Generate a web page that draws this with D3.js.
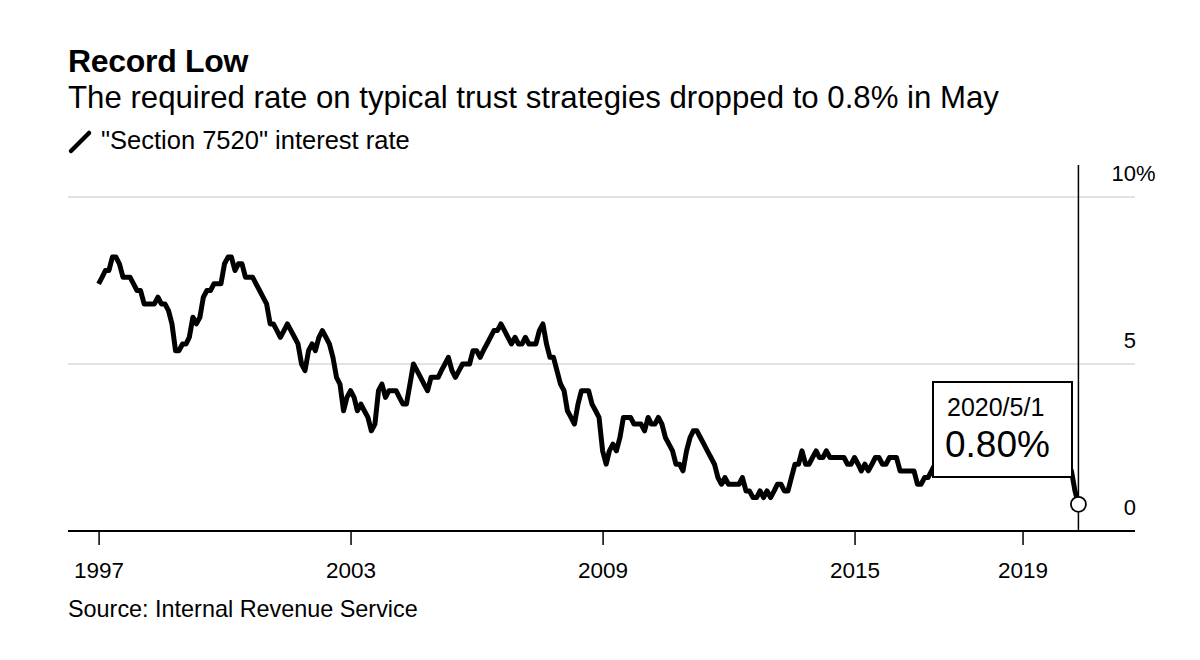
<!DOCTYPE html>
<html>
<head>
<meta charset="utf-8">
<script src="https://cdn.jsdelivr.net/npm/d3@7"></script>
<style>
  html, body { margin: 0; padding: 0; background: #fff; }
  svg text { font-family: "Liberation Sans", Arial, sans-serif; fill: #000; }
</style>
</head>
<body>
<script>
// ---- Data ----
const title = "Record Low";
const subtitle = "The required rate on typical trust strategies dropped to 0.8% in May";
const legendLabel = "\"Section 7520\" interest rate";
const source = "Source: Internal Revenue Service";

const firstMonth = [1997, 0]; // January 1997, monthly series
const rates = [
  // 1997
  7.4, 7.6, 7.8, 7.8, 8.2, 8.2, 8.0, 7.6, 7.6, 7.6, 7.4, 7.2,
  // 1998
  7.2, 6.8, 6.8, 6.8, 6.8, 7.0, 6.8, 6.8, 6.6, 6.2, 5.4, 5.4,
  // 1999
  5.6, 5.6, 5.8, 6.4, 6.2, 6.4, 7.0, 7.2, 7.2, 7.4, 7.4, 7.4,
  // 2000
  8.0, 8.2, 8.2, 7.8, 8.0, 8.0, 7.6, 7.6, 7.6, 7.4, 7.2, 7.0,
  // 2001
  6.8, 6.2, 6.2, 6.0, 5.8, 6.0, 6.2, 6.0, 5.8, 5.6, 5.0, 4.8,
  // 2002
  5.4, 5.6, 5.4, 5.8, 6.0, 5.8, 5.6, 5.2, 4.6, 4.4, 3.6, 4.0,
  // 2003
  4.2, 4.0, 3.6, 3.8, 3.6, 3.4, 3.0, 3.2, 4.2, 4.4, 4.0, 4.2,
  // 2004
  4.2, 4.2, 4.0, 3.8, 3.8, 4.4, 5.0, 4.8, 4.6, 4.4, 4.2, 4.6,
  // 2005
  4.6, 4.6, 4.8, 5.0, 5.2, 4.8, 4.6, 4.8, 5.0, 5.0, 5.0, 5.4,
  // 2006
  5.4, 5.2, 5.4, 5.6, 5.8, 6.0, 6.0, 6.2, 6.0, 5.8, 5.6, 5.8,
  // 2007
  5.6, 5.6, 5.8, 5.6, 5.6, 5.6, 6.0, 6.2, 5.6, 5.2, 5.2, 4.8,
  // 2008
  4.4, 4.2, 3.6, 3.4, 3.2, 3.8, 4.2, 4.2, 4.2, 3.8, 3.6, 3.4,
  // 2009
  2.4, 2.0, 2.4, 2.6, 2.4, 2.8, 3.4, 3.4, 3.4, 3.2, 3.2, 3.2,
  // 2010
  3.0, 3.4, 3.2, 3.2, 3.4, 3.2, 2.8, 2.6, 2.4, 2.0, 2.0, 1.8,
  // 2011
  2.4, 2.8, 3.0, 3.0, 2.8, 2.6, 2.4, 2.2, 2.0, 1.6, 1.4, 1.6,
  // 2012
  1.4, 1.4, 1.4, 1.4, 1.6, 1.2, 1.2, 1.0, 1.0, 1.2, 1.0, 1.2,
  // 2013
  1.0, 1.2, 1.4, 1.4, 1.2, 1.2, 1.6, 2.0, 2.0, 2.4, 2.0, 2.0,
  // 2014
  2.2, 2.4, 2.2, 2.2, 2.4, 2.2, 2.2, 2.2, 2.2, 2.2, 2.0, 2.0,
  // 2015
  2.2, 2.0, 1.8, 2.0, 1.8, 2.0, 2.2, 2.2, 2.0, 2.0, 2.2, 2.2,
  // 2016
  2.2, 1.8, 1.8, 1.8, 1.8, 1.8, 1.4, 1.4, 1.6, 1.6, 1.8, 2.0,
  // 2017
  2.4, 2.6, 2.6, 2.6, 2.4, 2.4, 2.4, 2.4, 2.2, 2.2, 2.4, 2.4,
  // 2018
  2.6, 2.6, 3.0, 3.2, 3.4, 3.4, 3.4, 3.4, 3.4, 3.4, 3.6, 3.6,
  // 2019
  3.4, 3.2, 3.2, 3.0, 2.8, 2.8, 2.4, 2.4, 2.2, 1.8, 2.0, 2.0,
  // 2020
  2.0, 2.0, 1.8, 1.2, 0.8
];

const xTickYears = [1997, 2003, 2009, 2015, 2019];
const yTickValues = [0, 5, 10];
const yTickLabels = ["0", "5", "10"];
const annotationDate = "2020/5/1";
const annotationValue = "0.80%";

// ---- Build ----
const data = rates.map((v, i) => ({ date: new Date(firstMonth[0], firstMonth[1] + i, 1), value: v }));
const last = data[data.length - 1];

const W = 1200, H = 660;
const svg = d3.select("body").append("svg").attr("width", W).attr("height", H);

const plotLeft = 68, plotRight = 1135;
const x = d3.scaleTime()
  .domain([new Date(1997, 0, 1), new Date(2021, 0, 1)])
  .range([98.6, 1106.6]);
const y = d3.scaleLinear().domain([0, 10]).range([531, 197]);

// Title block
svg.append("text").attr("x", 68).attr("y", 72)
  .attr("font-size", 32).attr("font-weight", "bold").attr("letter-spacing", -0.3).text(title);
svg.append("text").attr("x", 68).attr("y", 108)
  .attr("font-size", 31.2).text(subtitle);

// Legend
svg.append("line").attr("x1", 71).attr("y1", 151).attr("x2", 89).attr("y2", 133)
  .attr("stroke", "#000").attr("stroke-width", 4.5).attr("stroke-linecap", "round");
svg.append("text").attr("x", 101).attr("y", 149).attr("font-size", 25.5).text(legendLabel);

// Gridlines
svg.append("g").selectAll("line").data(yTickValues.filter(d => d > 0)).join("line")
  .attr("x1", plotLeft).attr("x2", plotRight)
  .attr("y1", d => y(d)).attr("y2", d => y(d))
  .attr("stroke", "#d9d9d9").attr("stroke-width", 1.5);

// Y labels (right, above gridline; % hanging to the right)
const yl = svg.append("g");
yl.selectAll("text").data(yTickValues).join("text")
  .attr("x", 1136).attr("y", d => y(d) - 16)
  .attr("text-anchor", "end").attr("font-size", 22)
  .text((d, i) => yTickLabels[i]);
yl.append("text").attr("x", 1136).attr("y", y(10) - 16)
  .attr("font-size", 22).text("%");

// X axis
const xAxis = d3.axisBottom(x)
  .tickValues(xTickYears.map(yr => new Date(yr, 0, 1)))
  .tickFormat(d3.timeFormat("%Y"))
  .tickSize(14).tickPadding(17);
const gx = svg.append("g").attr("transform", `translate(0,${y(0)})`).call(xAxis);
gx.select(".domain").remove();
gx.selectAll(".tick line").attr("stroke", "#000").attr("stroke-width", 1.5);
gx.selectAll(".tick text").attr("font-size", 22.5)
  .attr("font-family", "\"Liberation Sans\", Arial, sans-serif").attr("fill", "#000");
svg.append("line").attr("x1", plotLeft).attr("x2", plotRight)
  .attr("y1", y(0)).attr("y2", y(0)).attr("stroke", "#000").attr("stroke-width", 1.8);

// Vertical marker line at last point
svg.append("line").attr("x1", x(last.date)).attr("x2", x(last.date))
  .attr("y1", 165).attr("y2", y(0))
  .attr("stroke", "#000").attr("stroke-width", 1.5);

// Line
const line = d3.line().x(d => x(d.date)).y(d => y(d.value));
svg.append("path").datum(data).attr("d", line)
  .attr("fill", "none").attr("stroke", "#000").attr("stroke-width", 5)
  .attr("stroke-linejoin", "round").attr("stroke-linecap", "butt");

// Annotation box
const bx = 933, by = 382, bw = 139, bh = 95;
svg.append("rect").attr("x", bx).attr("y", by).attr("width", bw).attr("height", bh)
  .attr("fill", "#fff").attr("stroke", "#000").attr("stroke-width", 2);
svg.append("text").attr("x", bx + 14).attr("y", by + 34).attr("font-size", 25).text(annotationDate);
svg.append("text").attr("x", bx + 12).attr("y", by + 75).attr("font-size", 37).text(annotationValue);

// Circle at last point
svg.append("circle").attr("cx", x(last.date)).attr("cy", y(last.value)).attr("r", 7.5)
  .attr("fill", "#fff").attr("stroke", "#000").attr("stroke-width", 1.8);

// Source
svg.append("text").attr("x", 68).attr("y", 617).attr("font-size", 23.4).text(source);
</script>
</body>
</html>
